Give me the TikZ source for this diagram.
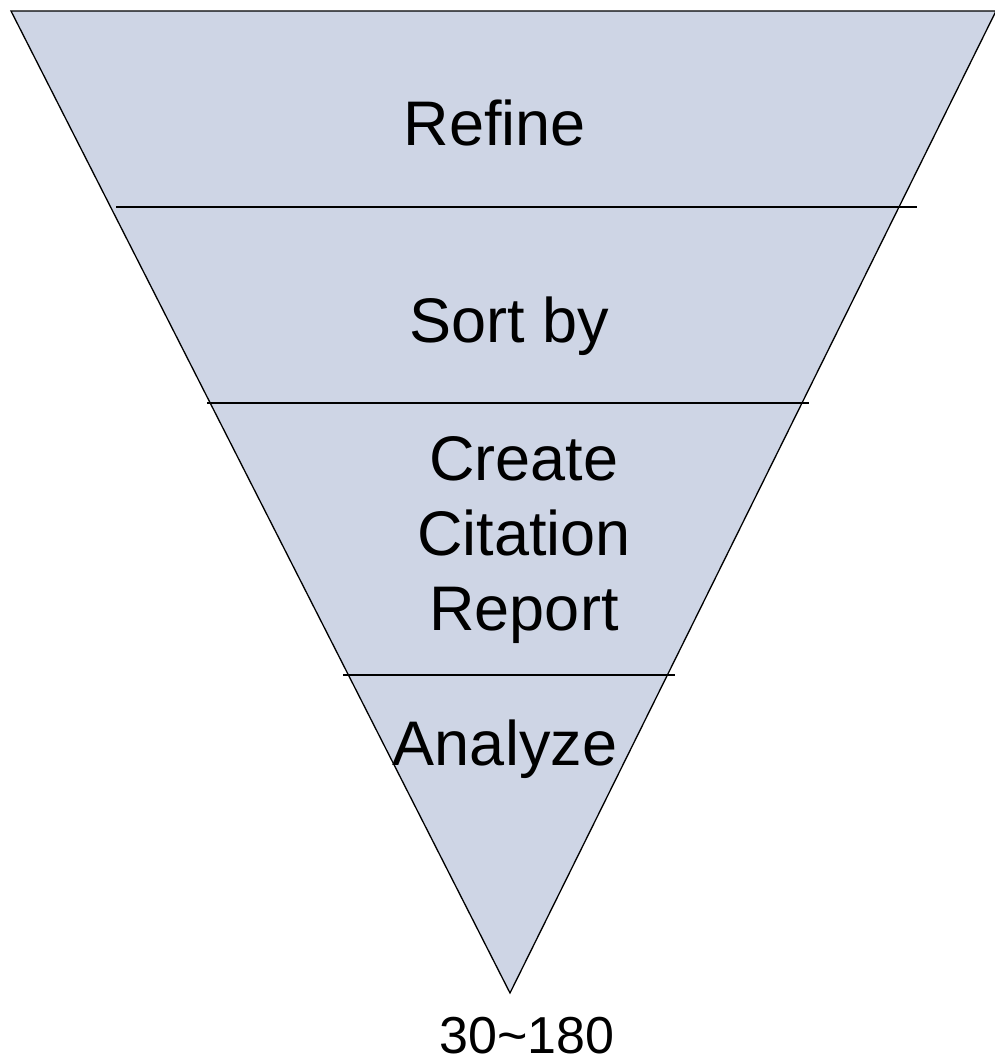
\documentclass[tikz,border=0pt]{standalone}
\usepackage{fontspec}
\setmainfont{Liberation Sans}
\usepackage{xcolor}
\usepackage{tikz}

\begin{document}
\begin{tikzpicture}[x=1pt,y=-1pt]
    \definecolor{funnelfill}{RGB}{206,213,229}
    \tikzstyle{stage}=[anchor=base,inner sep=0pt,font=\fontsize{63}{75}\selectfont]  % 漏斗各层文字
    \tikzstyle{divider}=[line width=1.2pt]  % 分隔线
    \useasboundingbox (0,0) rectangle (995,1061);

    % 漏斗外形
    \coordinate (topleft) at (11,11);
    \coordinate (topright) at (996,11);
    \coordinate (tip) at (510,993);
    \filldraw[fill=funnelfill,line width=1.3pt,line join=miter] (topleft) -- (topright) -- (tip) -- cycle;

    % 分隔线端点
    \coordinate (d1l) at (116,207);
    \coordinate (d1r) at (917,207);
    \coordinate (d2l) at (207,403);
    \coordinate (d2r) at (809,403);
    \coordinate (d3l) at (343,675);
    \coordinate (d3r) at (675,675);
    \draw[divider] (d1l) -- (d1r);
    \draw[divider] (d2l) -- (d2r);
    \draw[divider] (d3l) -- (d3r);

    % 文字 (多行节点的base是最后一行)
    \node[stage] (refine) at (495,145) {Refine};
    \node[stage] (sort) at (509,342) {Sort by};
    \node[stage,align=center] (report) at (524,630) {Create\\Citation\\Report};
    \node[stage] (analyze) at (505,765) {Analyze};
    \node[stage,font=\fontsize{52}{60}\selectfont] (count) at (527,1053) {30\textasciitilde180};
\end{tikzpicture}
\end{document}
